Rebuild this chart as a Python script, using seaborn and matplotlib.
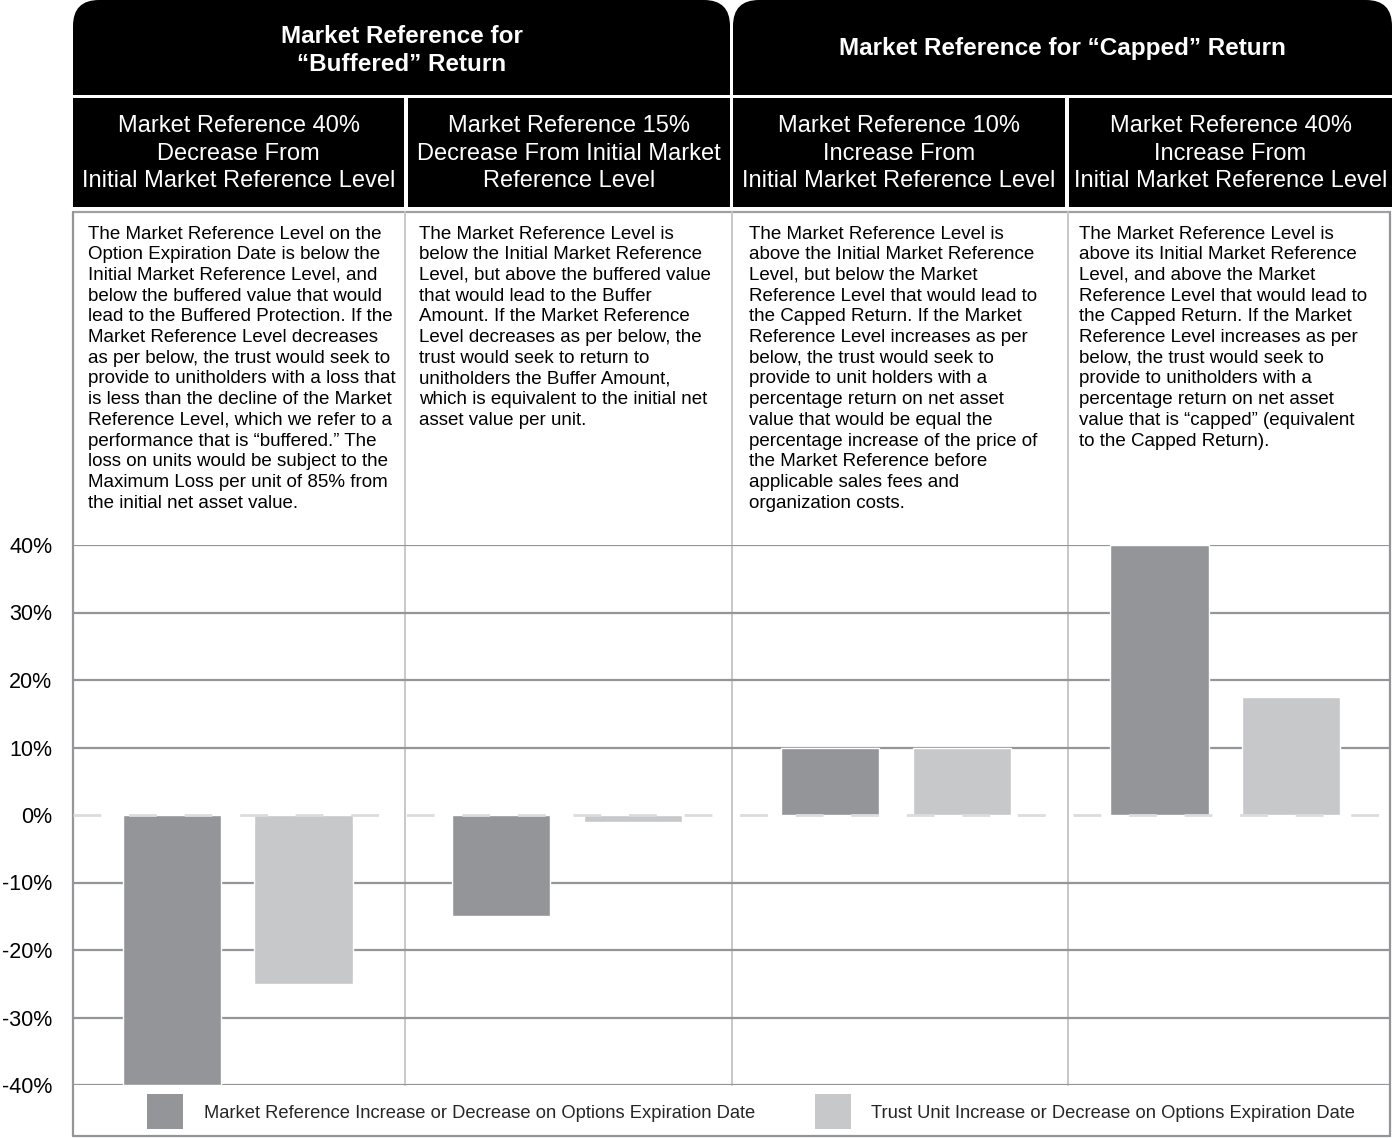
import pandas as pd
import matplotlib.pyplot as plt
import seaborn as sns
from matplotlib.patches import FancyBboxPatch, Rectangle

# -------------------------------
# Data
# -------------------------------
scenarios = ["Market -40%", "Market -15%", "Market +10%", "Market +40%"]
market_change = [-40, -15, 10, 40]
trust_change = [-25, -1, 10, 17.5]
series_names = [
    "Market Reference Increase or Decrease on Options Expiration Date",
    "Trust Unit Increase or Decrease on Options Expiration Date",
]
y_ticks = [40, 30, 20, 10, 0, -10, -20, -30, -40]

top_titles = ["Market Reference for\n\u201cBuffered\u201d Return",
              "Market Reference for \u201cCapped\u201d Return"]
sub_titles = [
    "Market Reference 40%\nDecrease From\nInitial Market Reference Level",
    "Market Reference 15%\nDecrease From Initial Market\nReference Level",
    "Market Reference 10%\nIncrease From\nInitial Market Reference Level",
    "Market Reference 40%\nIncrease From\nInitial Market Reference Level",
]
notes = [
    ["The Market Reference Level on the",
     "Option Expiration Date is below the",
     "Initial Market Reference Level, and",
     "below the buffered value that would",
     "lead to the Buffered Protection. If the",
     "Market Reference Level decreases",
     "as per below, the trust would seek to",
     "provide to unitholders with a loss that",
     "is less than the decline of the Market",
     "Reference Level, which we refer to a",
     "performance that is \u201cbuffered.\u201d The",
     "loss on units would be subject to the",
     "Maximum Loss per unit of 85% from",
     "the initial net asset value."],
    ["The Market Reference Level is",
     "below the Initial Market Reference",
     "Level, but above the buffered value",
     "that would lead to the Buffer",
     "Amount. If the Market Reference",
     "Level decreases as per below, the",
     "trust would seek to return to",
     "unitholders the Buffer Amount,",
     "which is equivalent to the initial net",
     "asset value per unit."],
    ["The Market Reference Level is",
     "above the Initial Market Reference",
     "Level, but below the Market",
     "Reference Level that would lead to",
     "the Capped Return. If the Market",
     "Reference Level increases as per",
     "below, the trust would seek to",
     "provide to unit holders with a",
     "percentage return on net asset",
     "value that would be equal the",
     "percentage increase of the price of",
     "the Market Reference before",
     "applicable sales fees and",
     "organization costs."],
    ["The Market Reference Level is",
     "above its Initial Market Reference",
     "Level, and above the Market",
     "Reference Level that would lead to",
     "the Capped Return. If the Market",
     "Reference Level increases as per",
     "below, the trust would seek to",
     "provide to unitholders with a",
     "percentage return on net asset",
     "value that is \u201ccapped\u201d (equivalent",
     "to the Capped Return)."],
]

df = pd.DataFrame({
    "scenario": scenarios * 2,
    "change": market_change + trust_change,
    "series": [series_names[0]] * 4 + [series_names[1]] * 4,
})

DARK = "#939598"
LIGHT = "#c7c8ca"
GRID = "#939598"
SEP = "#c8c8c8"

sns.set_style("white")
plt.rcParams["font.family"] = ["Liberation Sans", "DejaVu Sans"]

W, H = 1392, 1138
fig = plt.figure(figsize=(W / 100, H / 100), dpi=100)

# overlay axes in pixel coordinates for the table part
ov = fig.add_axes([0, 0, 1, 1])
ov.set_xlim(0, W)
ov.set_ylim(H, 0)
ov.axis("off")

# -------------------------------
# Header boxes
# -------------------------------
top_boxes = [(73, 730), (733, 1392)]
for (x0, x1), title in zip(top_boxes, top_titles):
    ov.add_patch(FancyBboxPatch((x0, 0), x1 - x0, 95,
                                boxstyle="round,pad=0,rounding_size=26",
                                fc="black", ec="none"))
    ov.add_patch(Rectangle((x0, 40), x1 - x0, 55, fc="black", ec="none"))
    lines = title.split("\n")
    y0 = 48 - (len(lines) - 1) * 12
    for i, line in enumerate(lines):
        ov.text((x0 + x1) / 2, y0 + i * 28, line, color="white",
                fontsize=17.5, fontweight="bold", ha="center", va="center")

sub_boxes = [(73, 404), (408, 730), (733, 1065), (1069, 1392)]
for (x0, x1), title in zip(sub_boxes, sub_titles):
    ov.add_patch(Rectangle((x0, 98), x1 - x0, 109, fc="black", ec="none"))
    for i, line in enumerate(title.split("\n")):
        ov.text((x0 + x1) / 2, 126 + i * 27.5, line, color="white",
                fontsize=17, ha="center", va="center")

# -------------------------------
# Explanation text
# -------------------------------
note_x = [88, 419, 749, 1079]
for x, lines in zip(note_x, notes):
    for i, line in enumerate(lines):
        ov.text(x, 234 + i * 20.7, line, fontsize=13.5, ha="left",
                va="center", color="black")

# table borders
ov.plot([73, 1390], [212, 212], color="#a0a0a2", lw=1.6)
ov.plot([73, 73], [212, 1136], color=GRID, lw=1.6)
ov.plot([1390, 1390], [212, 1136], color=GRID, lw=1.6)
ov.plot([73, 1390], [1136, 1136], color=GRID, lw=1.6)
for x in [405, 732, 1068]:
    ov.plot([x, x], [212, 1085], color=SEP, lw=1.4)

# -------------------------------
# Bar chart
# -------------------------------
ax = fig.add_axes([73 / W, 1 - 1085 / H, (1390 - 73) / W, (1085 - 545) / H])
ax.patch.set_alpha(0)
for y in y_ticks:
    if y != 0:
        ax.axhline(y, color=GRID, lw=1.6, zorder=1)
sns.barplot(data=df, x="scenario", y="change", hue="series",
            palette=[DARK, LIGHT], saturation=1, width=0.8, gap=0.255,
            legend=False, ax=ax, zorder=2)
ax.axhline(0, color="#dcdcdd", lw=2.0, ls=(0, (10, 10)), zorder=3)
ax.set_xlim(-0.5, 3.5)
ax.set_ylim(-40, 40)
ax.set_yticks(y_ticks)
ax.set_yticklabels([f"{v}%" for v in y_ticks], fontsize=15.5, color="black")
ax.tick_params(axis="y", length=0, pad=15)
ax.set_xticks([])
ax.set_xlabel("")
ax.set_ylabel("")
sns.despine(ax=ax, left=True, bottom=True)

# -------------------------------
# Legend
# -------------------------------
legend_items = [(147, DARK, 204), (815, LIGHT, 871)]
for (sx, col, tx), name in zip(legend_items, series_names):
    ov.add_patch(Rectangle((sx, 1094), 36, 35, fc=col, ec="none"))
    ov.text(tx, 1114, name, fontsize=13.2, ha="left", va="center")

fig.savefig("out.png", dpi=100)
